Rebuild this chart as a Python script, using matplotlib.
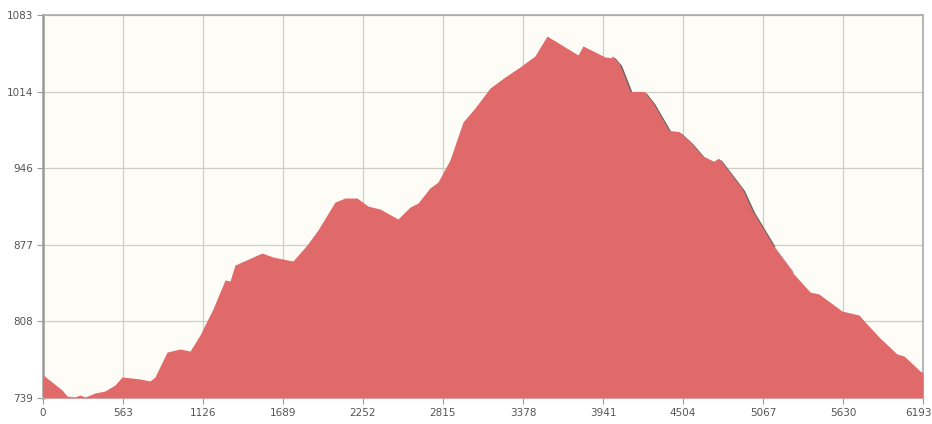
import matplotlib
matplotlib.use("Agg")
import matplotlib.pyplot as plt
import matplotlib.patheffects as pe
import matplotlib.transforms as mtransforms
import numpy as np

# distance (m) and elevation (m)
distance = [0, 134, 169, 225, 260, 296, 366, 436, 507, 556, 683, 753, 788, 873,
            964, 1035, 1105, 1196, 1281, 1316, 1351, 1541, 1619, 1759, 1858, 1935,
            2055, 2125, 2210, 2287, 2372, 2498, 2583, 2639, 2723, 2780, 2864, 2956,
            3040, 3146, 3251, 3357, 3462, 3547, 3617, 3765, 3800, 3955, 4011, 4054,
            4131, 4230, 4286, 4405, 4476, 4553, 4638, 4722, 4757, 4828, 4919, 4990,
            5130, 5271, 5398, 5461, 5623, 5743, 5785, 5883, 6010, 6060, 6172, 6193]
elevation = [759.7, 746.2, 740.8, 739.9, 741.7, 739.9, 743.5, 745.3, 750.7, 757.9,
             756.1, 754.3, 757.9, 780.3, 783.0, 781.2, 795.6, 818.9, 845.0, 844.1,
             858.4, 869.2, 865.6, 862.0, 876.4, 889.9, 915.0, 918.6, 918.6, 911.4,
             908.7, 899.8, 910.5, 914.1, 927.6, 933.0, 952.8, 986.9, 999.5, 1017.4,
             1027.3, 1036.3, 1046.2, 1064.1, 1058.7, 1047.1, 1055.2, 1045.3, 1044.4,
             1038.1, 1013.0, 1013.0, 1004.0, 977.9, 977.0, 968.0, 955.5, 950.1,
             952.8, 941.1, 925.8, 906.1, 876.4, 852.2, 834.2, 832.4, 817.1, 813.5,
             807.3, 793.8, 778.5, 776.7, 763.3, 761.5]

x_ticks = [0, 563, 1126, 1689, 2252, 2815, 3378, 3941, 4504, 5067, 5630, 6193]
y_labels = ["739", "808", "877", "946", "1014", "1083"]
y_min, y_max = 739, 1083

fig = plt.figure(figsize=(9.32, 4.24), dpi=100)
ax = fig.add_axes([43 / 932, 26 / 424, 880 / 932, 383 / 424])
ax.set_facecolor("#fdfcf7")

d = np.array(distance)
e = np.array(elevation)

# shadow along the descending flank, fading out lower down
seg = (d >= 4011) & (d <= 5130)
ax.plot(d[seg], e[seg], color="#e06a6a", lw=1.5, zorder=3,
        path_effects=[pe.SimpleLineShadow(offset=(1.5, -1), shadow_color="#555555", alpha=0.9),
                      pe.Normal()])
seg2 = (d >= 5130) & (d <= 5271)
ax.plot(d[seg2], e[seg2], color="#e06a6a", lw=1.0, zorder=3,
        path_effects=[pe.SimpleLineShadow(offset=(1, -0.5), shadow_color="#777777", alpha=0.5),
                      pe.Normal()])
ax.fill_between(d, y_min, e, color="#e06a6a", lw=0, zorder=4)

ax.set_xlim(0, 6193)
ax.set_ylim(y_min, y_max)
ax.set_xticks(x_ticks)
ax.set_xticklabels([str(t) for t in x_ticks])
ax.set_yticks(np.linspace(y_min, y_max, len(y_labels)))
ax.set_yticklabels(y_labels)

ax.grid(True, color="#cfcdc4", lw=0.9, zorder=1)
ax.set_axisbelow(True)
ax.tick_params(axis="both", labelsize=7.5, colors="#555555", length=4, width=0.8,
               color="#999999", pad=3)

# keep the last x label inside the figure
last = ax.get_xticklabels()[-1]
last.set_transform(last.get_transform() +
                   mtransforms.ScaledTranslation(-5 / 100, 0, fig.dpi_scale_trans))

for side in ("top", "right", "bottom"):
    ax.spines[side].set_color("#aaaaaa")
    ax.spines[side].set_linewidth(1.2)
ax.spines["left"].set_color("#999999")
ax.spines["left"].set_linewidth(1.8)
ax.spines["bottom"].set_color("#cccccc")

fig.savefig("out.png", dpi=100, facecolor="white")
